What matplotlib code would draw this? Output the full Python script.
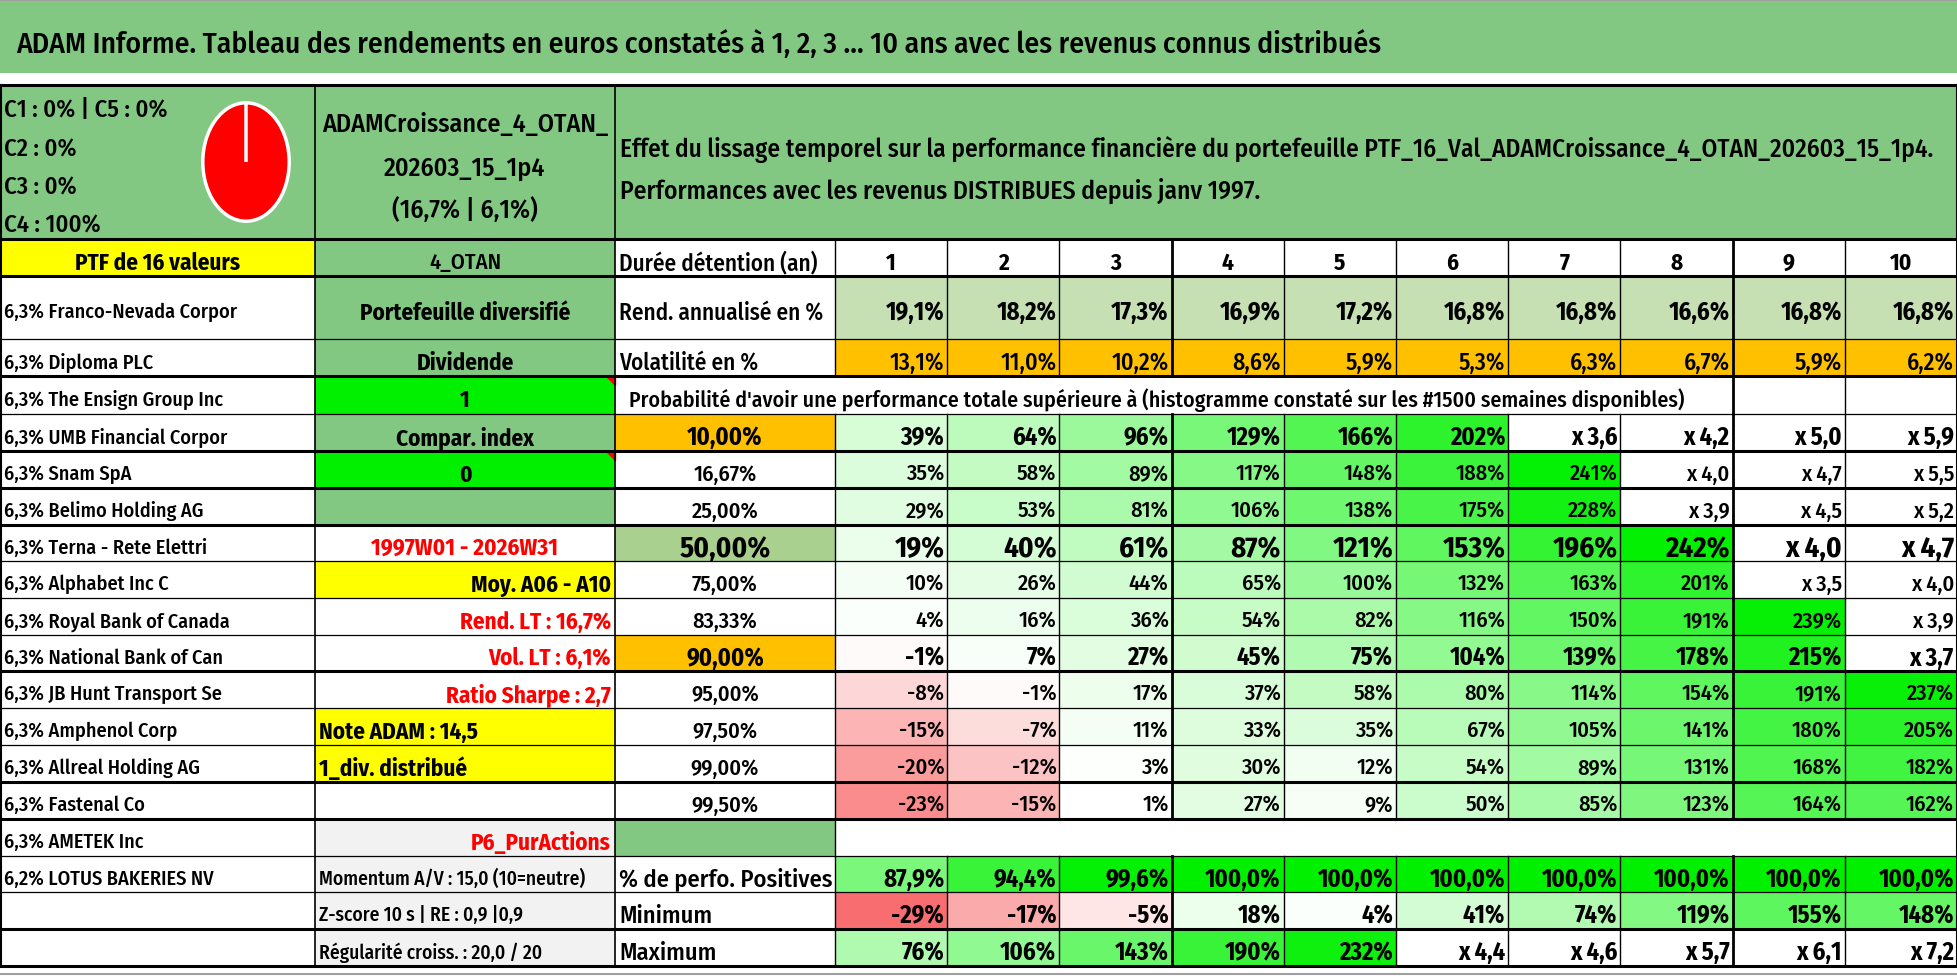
import matplotlib
matplotlib.use("Agg")
import matplotlib.pyplot as plt
from matplotlib.patches import Rectangle, Polygon

plt.rcParams['font.family'] = ['Fira Sans Condensed', 'Roboto Condensed', 'Asap Condensed', 'DejaVu Sans']

# --- Données ---
titre = "ADAM Informe. Tableau des rendements en euros constatés à 1, 2, 3 … 10 ans avec les revenus connus distribués"
nom_ptf = ["ADAMCroissance_4_OTAN_", "202603_15_1p4", "(16,7% | 6,1%)"]
effet = ["Effet du lissage temporel sur la performance financière du portefeuille PTF_16_Val_ADAMCroissance_4_OTAN_202603_15_1p4.",
         "Performances avec les revenus DISTRIBUES depuis janv 1997."]
titre_histo = "Probabilité d'avoir une performance totale supérieure à (histogramme constaté sur les #1500 semaines disponibles)"
classes = ["C1", "C2", "C3", "C4", "C5"]
parts_classes = [0, 0, 0, 100, 0]

valeurs = ["6,3% Franco-Nevada Corpor", "6,3% Diploma PLC", "6,3% The Ensign Group Inc",
           "6,3% UMB Financial Corpor", "6,3% Snam SpA", "6,3% Belimo Holding AG",
           "6,3% Terna - Rete Elettri", "6,3% Alphabet Inc C", "6,3% Royal Bank of Canada",
           "6,3% National Bank of Can", "6,3% JB Hunt Transport Se", "6,3% Amphenol Corp",
           "6,3% Allreal Holding AG", "6,3% Fastenal Co", "6,3% AMETEK Inc",
           "6,2% LOTUS BAKERIES NV"]

infos_b = ["Portefeuille diversifié", "Dividende", "1", "Compar. index", "0", "",
           "1997W01 - 2026W31", "Moy. A06 - A10", "Rend. LT : 16,7%", "Vol. LT : 6,1%",
           "Ratio Sharpe : 2,7", "Note ADAM : 14,5", "1_div. distribué", "", "P6_PurActions",
           "Momentum A/V : 15,0 (10=neutre)", "Z-score 10 s | RE : 0,9 |0,9",
           "Régularité croiss. : 20,0 / 20"]

durees = [1, 2, 3, 4, 5, 6, 7, 8, 9, 10]
rend_annualise = [19.1, 18.2, 17.3, 16.9, 17.2, 16.8, 16.8, 16.6, 16.8, 16.8]
volatilite = [13.1, 11.0, 10.2, 8.6, 5.9, 5.3, 6.3, 6.7, 5.9, 6.2]

seuils = [10.0, 16.67, 25.0, 50.0, 75.0, 83.33, 90.0, 95.0, 97.5, 99.0, 99.5]
# performance totale en % (les valeurs >= 250 % sont affichées en multiple "x N")
quantiles = [
    [39, 64, 96, 129, 166, 202, 260, 320, 400, 490],
    [35, 58, 89, 117, 148, 188, 241, 300, 370, 450],
    [29, 53, 81, 106, 138, 175, 228, 290, 350, 420],
    [19, 40, 61, 87, 121, 153, 196, 242, 300, 370],
    [10, 26, 44, 65, 100, 132, 163, 201, 250, 300],
    [4, 16, 36, 54, 82, 116, 150, 191, 239, 290],
    [-1, 7, 27, 45, 75, 104, 139, 178, 215, 270],
    [-8, -1, 17, 37, 58, 80, 114, 154, 191, 237],
    [-15, -7, 11, 33, 35, 67, 105, 141, 180, 205],
    [-20, -12, 3, 30, 12, 54, 89, 131, 168, 182],
    [-23, -15, 1, 27, 9, 50, 85, 123, 164, 162],
]
pct_positives = [87.9, 94.4, 99.6, 100.0, 100.0, 100.0, 100.0, 100.0, 100.0, 100.0]
minimum = [-29, -17, -5, 18, 4, 41, 74, 119, 155, 148]
maximum = [76, 106, 143, 190, 232, 340, 360, 470, 510, 620]

# --- Mise en page ---
VERT = '#82C882'
LIME = '#00F000'
JAUNE = '#FFFF00'
ORANGE = '#FFC000'
VERT_CLAIR = '#C6E0B4'
VERT_MOY = '#A9D08E'
GRIS = '#F2F2F2'
NORMAL = 'medium'

W, H = 1958, 979
fig = plt.figure(figsize=(W / 100, H / 100), dpi=100)
ax = fig.add_axes([0, 0, 1, 1])
ax.set_xlim(0, W)
ax.set_ylim(H, 0)
ax.axis('off')
renderer = fig.canvas.get_renderer()

# échelle des polices : "6,3% Franco-Nevada Corpor" mesure ~232 px dans l'original
_t = ax.text(0, 0, valeurs[0], fontsize=14, fontweight=NORMAL)
K = 232 / _t.get_window_extent(renderer).width
_t.remove()

xa, xb, xc, xd = 0, 315, 615, 835
cw = (W - 1 - xd) / 10
xcols = [xd + i * cw for i in range(11)]
yrows = [240, 277, 340, 377, 415, 452, 489, 526, 562, 599, 636, 672, 709, 746, 783, 820, 857, 893, 930, 967]


def cell(x0, x1, y0, y1, color):
    ax.add_patch(Rectangle((x0, y0), x1 - x0, y1 - y0, facecolor=color, edgecolor='none', zorder=1))


def txt(x, y, s, size=14, ha='left', color='black', weight=NORMAL, largeur=None):
    t = ax.text(x, y, s, fontsize=size * K, ha=ha, va='center_baseline', color=color,
                fontweight=weight, zorder=5)
    if largeur:
        w = t.get_window_extent(renderer).width
        t.set_fontsize(t.get_fontsize() * largeur / w)
    return t


def couleur_perf(v):
    if v >= 250:
        return (1, 1, 1)
    if v < 0:
        t = min(-v / 30, 1)
        r, g, b = (248 / 255, 105 / 255, 107 / 255)
    else:
        t = min(v / 245, 1)
        r, g, b = (0, 240 / 255, 0)
    return (1 - t + t * r, 1 - t + t * g, 1 - t + t * b)


def fmt_perf(v):
    if v >= 250:
        return "x " + f"{1 + v / 100:.1f}".replace('.', ',')
    return f"{v}%"


# titre
cell(0, W, 2, 74, VERT)
ax.plot([0, W], [1, 1], color='#A0A0A0', lw=1.5, zorder=3)
txt(16, 41, titre, size=22, largeur=1365)

# bloc du haut
cell(0, W, 86, 240, VERT)
for lab, y in zip(["C1 : 0% | C5 : 0%", "C2 : 0%", "C3 : 0%", "C4 : 100%"], [108, 147, 185, 223]):
    txt(4, y, lab, size=17)
for s, y in zip(nom_ptf, [122, 166, 208]):
    txt((xb + xc) / 2, y, s, size=18, ha='center')
txt(620, 147, effet[0], size=15.5, largeur=1312)
txt(620, 188, effet[1], size=15.5, largeur=1312 * len(effet[1]) / len(effet[0]))

ax_pie = fig.add_axes([(246 - 54) / W, 1 - (163 + 74) / H, 108 / W, 148 / H])
ax_pie.pie(parts_classes, colors=['#4472C4', '#ED7D31', '#A5A5A5', '#FF0000', '#5B9BD5'],
           startangle=90, counterclock=False,
           wedgeprops=dict(edgecolor='white', linewidth=2.5))
ax_pie.set_aspect('auto')

# ligne "Durée détention"
y0, y1 = yrows[0], yrows[1]
ym = (y0 + y1) / 2 + 2
cell(xa, xb, y0, y1, JAUNE)
cell(xb, xc, y0, y1, VERT)
txt((xa + xb) / 2, ym, "PTF de 16 valeurs", size=16, ha='center', weight='bold')
txt((xb + xc) / 2, ym, "4_OTAN", size=15.5, ha='center')
txt(xc + 4, ym, "Durée détention (an)", size=16)
for j, d in enumerate(durees):
    txt((xcols[j] + xcols[j + 1]) / 2, ym, str(d), size=16, ha='center', weight='bold')

# colonne A : valeurs du portefeuille
for i, nom in enumerate(valeurs):
    txt(4, (yrows[i + 1] + yrows[i + 2]) / 2 + 2, nom, size=14)

# colonne B : informations
fond_b = [VERT, VERT, LIME, VERT, LIME, VERT, 'white', JAUNE, 'white', 'white', 'white',
          JAUNE, JAUNE, 'white', GRIS, GRIS, GRIS, GRIS]
coul_b = ['black'] * 6 + ['red', 'black', 'red', 'red', 'red', 'black', 'black', 'black', 'red',
                          'black', 'black', 'black']
align_b = ['center'] * 7 + ['right'] * 4 + ['left', 'left', 'left', 'right', 'left', 'left', 'left']
for i, s in enumerate(infos_b):
    y0, y1 = yrows[i + 1], yrows[i + 2]
    ym = (y0 + y1) / 2 + 2
    cell(xb, xc, y0, y1, fond_b[i])
    xpos = {'center': (xb + xc) / 2, 'right': xc - 4, 'left': xb + 4}[align_b[i]]
    if i >= 15:
        txt(xpos, ym, s, size=13.5, ha=align_b[i], color=coul_b[i])
    else:
        txt(xpos, ym, s, size=16, ha=align_b[i], color=coul_b[i], weight='bold')
    if fond_b[i] == LIME:
        ax.add_patch(Polygon([[xc - 9, y0], [xc, y0], [xc, y0 + 9]], color='red', zorder=4))

# rendement annualisé et volatilité
y0, y1 = yrows[1], yrows[2]
ym = (y0 + y1) / 2 + 2
txt(xc + 4, ym, "Rend. annualisé en %", size=16)
for j, v in enumerate(rend_annualise):
    cell(xcols[j], xcols[j + 1], y0, y1, VERT_CLAIR)
    txt(xcols[j + 1] - 3, ym, f"{v:.1f}%".replace('.', ','), size=17, ha='right', weight='bold')
y0, y1 = yrows[2], yrows[3]
ym = (y0 + y1) / 2 + 2
txt(xc + 4, ym, "Volatilité en %", size=16)
for j, v in enumerate(volatilite):
    cell(xcols[j], xcols[j + 1], y0, y1, ORANGE)
    txt(xcols[j + 1] - 3, ym, f"{v:.1f}%".replace('.', ','), size=16.5, ha='right')

# titre de l'histogramme
y0, y1 = yrows[3], yrows[4]
txt(xc + 14, (y0 + y1) / 2 + 2, titre_histo, size=15.5, largeur=1046)

# tableau des quantiles
gras = {10.0: 17, 50.0: 20, 90.0: 17}
fond_seuil = {10.0: ORANGE, 50.0: VERT_MOY, 90.0: ORANGE}
for i, (s, ligne) in enumerate(zip(seuils, quantiles)):
    y0, y1 = yrows[i + 4], yrows[i + 5]
    ym = (y0 + y1) / 2 + 2
    cell(xc, xd, y0, y1, fond_seuil.get(s, 'white'))
    taille = gras.get(s, 15.5)
    poids = 'bold' if s in gras else NORMAL
    txt((xc + xd) / 2, ym, f"{s:.2f}%".replace('.', ','), size=taille, ha='center', weight=poids)
    for j, v in enumerate(ligne):
        cell(xcols[j], xcols[j + 1], y0, y1, couleur_perf(v))
        txt(xcols[j + 1] - 3, ym, fmt_perf(v), size=taille, ha='right', weight=poids)

# ligne AMETEK
cell(xc, xd, yrows[15], yrows[16], VERT)

# statistiques
stats = [("% de perfo. Positives", pct_positives), ("Minimum", minimum), ("Maximum", maximum)]
for k, (lab, serie) in enumerate(stats):
    y0, y1 = yrows[16 + k], yrows[17 + k]
    ym = (y0 + y1) / 2 + 2
    txt(xc + 4, ym, lab, size=17)
    for j, v in enumerate(serie):
        if k == 0:
            t = max(0, min((v - 75) / 25, 1))
            c = (1 - t, 1 - t + t * 240 / 255, 1 - t)
            s = f"{v:.1f}%".replace('.', ',')
        else:
            c = couleur_perf(v)
            s = fmt_perf(v)
        cell(xcols[j], xcols[j + 1], y0, y1, c)
        txt(xcols[j + 1] - 3, ym, s, size=17, ha='right', weight='bold')

# --- bordures ---
THIN, THICK = 0.9, 2.2
epais = {86, 240, 277, 377, 452, 489, 526, 672, 783, 820, 930, 967}
ax.plot([0, W], [86, 86], color='black', lw=THICK, zorder=6)
for y in yrows:
    ax.plot([0, W - 1], [y, y], color='black', lw=THICK if y in epais else THIN, zorder=6)

for x in (xb, xc):
    ax.plot([x, x], [86, yrows[0]], color='black', lw=1.2, zorder=6)
ax.plot([W - 1, W - 1], [86, yrows[-1]], color='black', lw=1.5, zorder=6)
ax.plot([0.5, 0.5], [86, yrows[-1]], color='black', lw=1.5, zorder=6)

for x in (xb, xc):
    ax.plot([x, x], [yrows[0], yrows[-1]], color='black', lw=1.2, zorder=6)
for r in range(len(yrows) - 1):
    y0, y1 = yrows[r], yrows[r + 1]
    if r == 15:
        ax.plot([xd, xd], [y0, y1], color='black', lw=1.0, zorder=6)
        continue
    xs = [xd] + xcols[1:-1]
    if r == 3:
        xs = [x for x in xcols[8:-1]]
    for x in xs:
        lw = 2.0 if x in (xcols[3], xcols[8]) else 1.0
        ax.plot([x, x], [y0, y1], color='black', lw=lw, zorder=6)

ax.plot([0, W], [975, 975], color='#A0A0A0', lw=1.5, zorder=3)

fig.savefig("out.png", dpi=100)
